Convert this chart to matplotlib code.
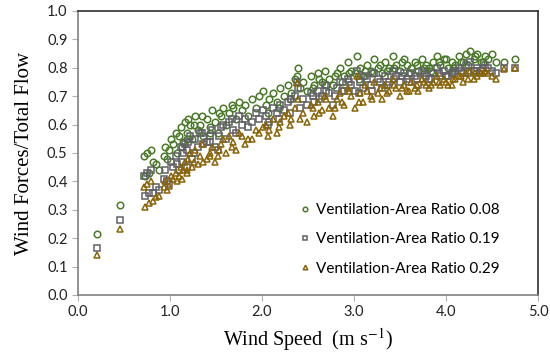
import numpy as np
import matplotlib.pyplot as plt

plt.rcParams['mathtext.fontset'] = 'stix'

# Wind speed (m/s) and wind-driven fraction of total flow for each ventilation-area ratio
wind_speed = [0.21, 0.46, 0.72, 0.73, 0.75, 0.77, 0.79, 0.82, 0.85, 0.88,
              0.93, 0.95, 0.97, 0.99, 1.01, 1.03, 1.06, 1.08, 1.10, 1.12,
              1.14, 1.16, 1.18, 1.20, 1.22, 1.24, 1.27, 1.30, 1.33, 1.36,
              1.40, 1.43, 1.46, 1.49, 1.52, 1.55, 1.58, 1.61, 1.64, 1.67,
              1.69, 1.72, 1.75, 1.78, 1.81, 1.85, 1.89, 1.93, 1.97, 2.01,
              2.04, 2.08, 2.12, 2.16, 2.20, 2.24, 2.28, 2.32, 2.36, 2.38,
              2.41, 2.45, 2.49, 2.53, 2.57, 2.61, 2.65, 2.69, 2.73, 2.77,
              2.81, 2.85, 2.89, 2.93, 2.97, 3.01, 3.03, 3.06, 3.10, 3.14,
              3.18, 3.22, 3.26, 3.30, 3.34, 3.38, 3.42, 3.46, 3.50, 3.54,
              3.58, 3.62, 3.66, 3.70, 3.74, 3.78, 3.82, 3.86, 3.90, 3.94,
              3.98, 4.02, 4.06, 4.10, 4.14, 4.18, 4.22, 4.26, 4.30, 4.34,
              4.38, 4.42, 4.46, 4.50, 4.54, 4.63, 4.75, 1.13, 1.19, 1.26,
              1.35, 1.44, 1.53, 2.55, 2.62, 2.70, 2.79, 2.87, 2.95, 3.05,
              3.12, 3.20, 3.28, 3.36, 3.44, 3.52, 3.60, 3.68, 3.76, 3.84,
              3.92, 4.00, 4.08, 4.16, 4.24, 4.32, 4.40, 2.30, 2.18, 2.06,
              2.39]

ratio_008 = [0.215, 0.317, 0.49, 0.42, 0.50, 0.43, 0.51, 0.47, 0.46, 0.44,
             0.49, 0.52, 0.48, 0.51, 0.55, 0.53, 0.57, 0.50, 0.56, 0.59,
             0.54, 0.61, 0.57, 0.62, 0.60, 0.55, 0.63, 0.58, 0.60, 0.56,
             0.62, 0.59, 0.65, 0.61, 0.57, 0.63, 0.66, 0.60, 0.64, 0.67,
             0.66, 0.62, 0.68, 0.65, 0.67, 0.63, 0.69, 0.66, 0.70, 0.72,
             0.67, 0.69, 0.71, 0.68, 0.73, 0.70, 0.74, 0.71, 0.76, 0.77,
             0.73, 0.75, 0.72, 0.77, 0.74, 0.78, 0.75, 0.79, 0.76, 0.74,
             0.78, 0.80, 0.77, 0.82, 0.79, 0.78, 0.84, 0.80, 0.77, 0.81,
             0.79, 0.83, 0.80, 0.78, 0.82, 0.80, 0.84, 0.81, 0.79, 0.83,
             0.81, 0.80, 0.82, 0.79, 0.83, 0.81, 0.80, 0.82, 0.84, 0.81,
             0.83, 0.80, 0.82, 0.81, 0.84, 0.82, 0.85, 0.86, 0.83, 0.85,
             0.82, 0.84, 0.83, 0.85, 0.82, 0.82, 0.83, 0.52, 0.55, 0.60,
             0.63, 0.57, 0.64, 0.73, 0.76, 0.74, 0.77, 0.75, 0.78, 0.76,
             0.79, 0.78, 0.81, 0.79, 0.80, 0.82, 0.78, 0.81, 0.80, 0.79,
             0.82, 0.83, 0.80, 0.82, 0.81, 0.84, 0.82, 0.69, 0.66, 0.64,
             0.80]

ratio_019 = [0.165, 0.264, 0.42, 0.35, 0.43, 0.36, 0.44, 0.36, 0.38, 0.37,
             0.41, 0.44, 0.40, 0.39, 0.47, 0.45, 0.49, 0.46, 0.44, 0.52,
             0.50, 0.53, 0.51, 0.54, 0.56, 0.48, 0.55, 0.52, 0.57, 0.53,
             0.54, 0.56, 0.58, 0.52, 0.51, 0.59, 0.60, 0.55, 0.61, 0.62,
             0.58, 0.57, 0.63, 0.60, 0.62, 0.59, 0.61, 0.64, 0.62, 0.65,
             0.63, 0.61, 0.66, 0.64, 0.67, 0.65, 0.68, 0.69, 0.70, 0.75,
             0.66, 0.69, 0.67, 0.71, 0.68, 0.72, 0.70, 0.74, 0.71, 0.67,
             0.73, 0.75, 0.72, 0.76, 0.74, 0.72, 0.79, 0.75, 0.73, 0.76,
             0.74, 0.78, 0.76, 0.73, 0.77, 0.75, 0.79, 0.77, 0.75, 0.78,
             0.76, 0.78, 0.77, 0.74, 0.79, 0.77, 0.76, 0.78, 0.80, 0.77,
             0.79, 0.77, 0.78, 0.79, 0.80, 0.78, 0.81, 0.82, 0.79, 0.80,
             0.79, 0.81, 0.80, 0.79, 0.78, 0.80, 0.80, 0.47, 0.45, 0.50,
             0.57, 0.54, 0.56, 0.70, 0.69, 0.72, 0.70, 0.72, 0.75, 0.71,
             0.77, 0.72, 0.75, 0.74, 0.76, 0.77, 0.75, 0.76, 0.78, 0.76,
             0.78, 0.77, 0.78, 0.79, 0.78, 0.79, 0.80, 0.64, 0.62, 0.60,
             0.73]

ratio_029 = [0.14, 0.232, 0.38, 0.31, 0.39, 0.325, 0.40, 0.33, 0.345, 0.35,
             0.38, 0.40, 0.37, 0.385, 0.42, 0.41, 0.43, 0.40, 0.42, 0.45,
             0.44, 0.47, 0.43, 0.48, 0.50, 0.45, 0.51, 0.46, 0.49, 0.47,
             0.48, 0.50, 0.52, 0.47, 0.49, 0.53, 0.55, 0.50, 0.56, 0.52,
             0.54, 0.51, 0.57, 0.56, 0.53, 0.55, 0.55, 0.58, 0.57, 0.59,
             0.60, 0.58, 0.62, 0.57, 0.61, 0.63, 0.64, 0.62, 0.66, 0.745,
             0.62, 0.64, 0.61, 0.67, 0.63, 0.68, 0.65, 0.70, 0.66, 0.63,
             0.69, 0.71, 0.67, 0.73, 0.70, 0.66, 0.77, 0.71, 0.68, 0.72,
             0.70, 0.75, 0.71, 0.69, 0.74, 0.72, 0.76, 0.73, 0.70, 0.74,
             0.72, 0.75, 0.73, 0.72, 0.76, 0.74, 0.73, 0.75, 0.77, 0.74,
             0.76, 0.74, 0.74, 0.76, 0.77, 0.75, 0.78, 0.79, 0.76, 0.77,
             0.78, 0.79, 0.78, 0.77, 0.76, 0.795, 0.80, 0.41, 0.44, 0.47,
             0.53, 0.49, 0.51, 0.66, 0.64, 0.69, 0.66, 0.68, 0.72, 0.68,
             0.74, 0.69, 0.73, 0.71, 0.74, 0.73, 0.72, 0.74, 0.75, 0.74,
             0.75, 0.75, 0.76, 0.77, 0.76, 0.78, 0.78, 0.60, 0.59, 0.56,
             0.69]

series = [(ratio_008, 'o', '#4a7a2a', 'Ventilation-Area Ratio 0.08'),
          (ratio_019, 's', '#606066', 'Ventilation-Area Ratio 0.19'),
          (ratio_029, '^', '#8a6406', 'Ventilation-Area Ratio 0.29')]

fig = plt.figure(figsize=(5.5, 3.57), dpi=100)
ax = fig.add_axes([0.1418, 0.1737, 0.8364, 0.7955])

for vals, mk, col, lab in series:
    ax.plot(wind_speed, vals, ls='', marker=mk, ms=4.7, mfc='none',
            mec=col, mew=1.1, label=lab)

ax.set_xlim(0, 5)
ax.set_ylim(0, 1)
ax.set_xticks(np.arange(0, 5.01, 1.0))
ax.set_yticks(np.arange(0, 1.01, 0.1))
ax.set_xticklabels([f'{v:.1f}' for v in np.arange(0, 5.01, 1.0)])
ax.set_yticklabels([f'{v:.1f}' for v in np.arange(0, 1.01, 0.1)])
ax.tick_params(direction='out', length=4, color='#b0b0b0', width=0.8,
               labelsize=10.5, labelcolor='#222222')
for lbl in ax.get_xticklabels() + ax.get_yticklabels():
    lbl.set_family('Lato')

for side in ['top', 'right']:
    ax.spines[side].set_color('#303030')
    ax.spines[side].set_linewidth(1.2)
for side in ['left', 'bottom']:
    ax.spines[side].set_color('#808080')
    ax.spines[side].set_linewidth(1.2)

ax.set_xlabel('Wind Speed  (m s$^{-1}$)', family='Liberation Serif', fontsize=14.5, labelpad=5)
ax.set_ylabel('Wind Forces/Total Flow', family='Liberation Serif', fontsize=15, labelpad=9)

leg = ax.legend(loc='lower left', bbox_to_anchor=(0.45, 0.02), frameon=False,
                prop={'family': 'Lato', 'size': 11}, markerscale=0.7,
                handlelength=0.8, handletextpad=0.35, labelspacing=1.0)

fig.savefig('out.png', dpi=100)
